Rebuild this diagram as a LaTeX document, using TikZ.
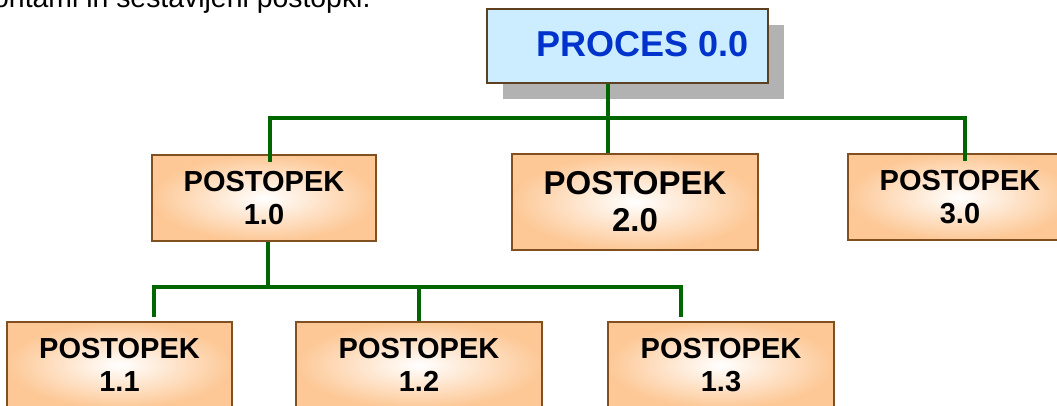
\documentclass[tikz,border=0pt]{standalone}
\usepackage{fontspec}
\setmainfont{Liberation Sans}
\usetikzlibrary{shadows}

\definecolor{peach}{RGB}{253,200,150}
\definecolor{boxbrown}{RGB}{128,80,32}
\definecolor{procfill}{RGB}{204,236,255}
\definecolor{procborder}{RGB}{94,64,32}
\definecolor{procblue}{RGB}{0,51,204}
\definecolor{linkgreen}{RGB}{0,102,0}
\definecolor{shadowgray}{RGB}{178,178,178}

\begin{document}
\begin{tikzpicture}[
    x=1pt, y=-1pt,
    procbox/.style={rectangle, draw=procborder, fill=procfill, line width=2pt, minimum width=281pt, minimum height=74pt, inner sep=0pt,
        drop shadow={shadow xshift=16pt, shadow yshift=-16pt, fill=shadowgray, opacity=1},
        font=\fontsize{36}{40}\selectfont\bfseries, text=procblue},
    stepbox/.style={rectangle, draw=boxbrown, line width=1.5pt, inner color=white, outer color=peach, minimum width=224pt, minimum height=86pt,
        inner sep=0pt, align=center, font=\fontsize{29}{33}\selectfont\bfseries},
    widebox/.style={stepbox, minimum width=246pt},
    link/.style={draw=linkgreen, line width=4pt}
]
\useasboundingbox (0,0) rectangle (1057,406);
\clip (0,0) rectangle (1057,406);

% Text line cut off at the top
\node[anchor=base west, inner sep=0pt, font=\fontsize{28.4}{32}\selectfont] (intro) at (-7,8) {ontami in sestavljeni postopki.};

% Top process
\node[procbox] (P0) at (627.5,46) {\hspace*{31pt}\raisebox{4pt}{PROCES 0.0}};

% First level
\node[stepbox] (P10) at (264,198) {POSTOPEK\\1.0};
\node[widebox, minimum height=96pt, font=\fontsize{33}{37}\selectfont\bfseries] (P20) at (635,202) {POSTOPEK\\2.0};
\node[stepbox] (P30) at (960,197) {POSTOPEK\\3.0};

% Second level
\node[stepbox, minimum width=225pt] (P11) at (119.5,365) {POSTOPEK\\1.1};
\node[widebox] (P12) at (419,365) {POSTOPEK\\1.2};
\node[stepbox, minimum width=226pt] (P13) at (721,365) {POSTOPEK\\1.3};

% Junctions
\coordinate (J0) at (608,118);
\coordinate (J1) at (268,287);

% Connectors
\draw[link] (P0.south -| J0) -- (J0);
\draw[link] ([xshift=6pt,yshift=-8pt]P10.north) |- (J0) -| ([xshift=5pt,yshift=-8pt]P30.north);
\draw[link] (J0) -- (J0 |- P20.north);
\draw[link] (P10.south -| J1) -- (J1);
\draw[link] ([xshift=34pt,yshift=4pt]P11.north) |- (J1) -| ([xshift=-40pt,yshift=4pt]P13.north);
\draw[link] (J1 -| P12.north) -- (P12.north);

\end{tikzpicture}
\end{document}
